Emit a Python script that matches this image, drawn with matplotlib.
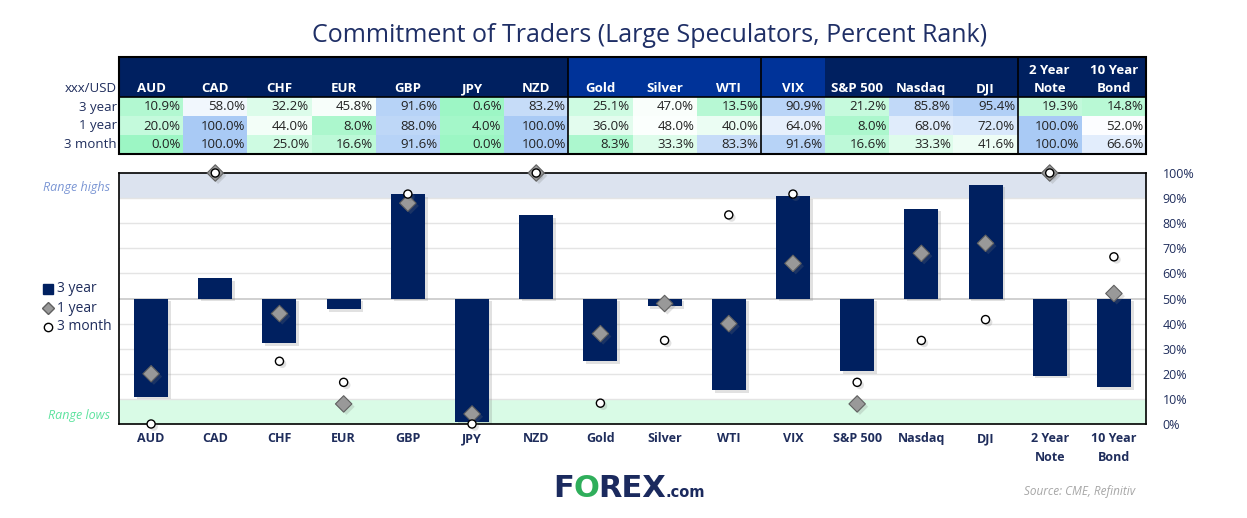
import matplotlib
matplotlib.use('Agg')
import matplotlib.pyplot as plt
import matplotlib.patheffects as pe
from matplotlib.patches import Rectangle
from matplotlib.lines import Line2D
import numpy as np

plt.rcParams['font.family'] = ['Open Sans', 'DejaVu Sans']

# DATA
markets = ['AUD', 'CAD', 'CHF', 'EUR', 'GBP', 'JPY', 'NZD', 'Gold', 'Silver', 'WTI',
           'VIX', 'S&P 500', 'Nasdaq', 'DJI', '2 Year\nNote', '10 Year\nBond']
rank_3y = [10.9, 58.0, 32.2, 45.8, 91.6, 0.6, 83.2, 25.1, 47.0, 13.5, 90.9, 21.2, 85.8, 95.4, 19.3, 14.8]
rank_1y = [20.0, 100.0, 44.0, 8.0, 88.0, 4.0, 100.0, 36.0, 48.0, 40.0, 64.0, 8.0, 68.0, 72.0, 100.0, 52.0]
rank_3m = [0.0, 100.0, 25.0, 16.6, 91.6, 0.0, 100.0, 8.3, 33.3, 83.3, 91.6, 16.6, 33.3, 41.6, 100.0, 66.6]
row_names = ['3 year', '1 year', '3 month']
y_ticks = list(range(0, 101, 10))

NAVY = '#002060'
BRIGHT = '#003399'
TXT = '#1f2d5c'
header_colours = [NAVY] * 7 + [BRIGHT] * 4 + [NAVY] * 5
separators = [6.5, 9.5, 13.5]

W, H = 1247, 518
def fx(px):
    return px / W
def fy(py):
    return 1 - py / H

green = np.array([0x9c, 0xf6, 0xc4]) / 255
blue = np.array([0xa9, 0xca, 0xf5]) / 255
white = np.array([1.0, 1.0, 1.0])

def cell_colour(v):
    if v <= 50:
        t = (50 - v) / 50
        return tuple(white + (green - white) * t)
    t = (v - 50) / 50
    return tuple(white + (blue - white) * t)

fig = plt.figure(figsize=(12.47, 5.18), dpi=100)

# TITLE
fig.text(0.521, fy(36), 'Commitment of Traders (Large Speculators, Percent Rank)',
         ha='center', va='center', fontsize=18, color='#1f2f66')

# TABLE
L, R = 119, 1146
tax = fig.add_axes([fx(L), fy(154), (R - L) / W, (154 - 57) / H])
tax.set_xlim(-0.5, 15.5)
tax.set_ylim(154, 57)
tax.axis('off')
for i, name in enumerate(markets):
    tax.add_patch(Rectangle((i - 0.5, 57), 1, 40, color=header_colours[i], lw=0))
    tax.text(i, 95, name, ha='center', va='bottom', color='white', fontweight='bold',
             fontsize=9.5, linespacing=1.55)
for r, values in enumerate([rank_3y, rank_1y, rank_3m]):
    y0 = 97 + 19 * r
    for i, v in enumerate(values):
        tax.add_patch(Rectangle((i - 0.5, y0), 1, 19, color=cell_colour(v), lw=0))
        tax.text(i + 0.46, y0 + 10, f'{v:.1f}%', ha='right', va='center', fontsize=9.5, color='#222222')
    fig.text(fx(117), fy(y0 + 10), row_names[r], ha='right', va='center', fontsize=9.5, color=TXT)
fig.text(fx(117), fy(88), 'xxx/USD', ha='right', va='center', fontsize=9.5, color=TXT)
tax.plot([-0.5, 15.5], [97, 97], color='black', lw=1.2)
for s in separators:
    tax.plot([s, s], [57, 154], color='black', lw=1.2)
tax.add_patch(Rectangle((-0.5, 57), 16, 97, fill=False, ec='black', lw=1.5, clip_on=False))

# MAIN CHART
ax = fig.add_axes([fx(L), fy(424), (R - L) / W, (424 - 173) / H])
x = np.arange(len(markets))
ax.axhspan(90, 100, color='#dce3ef', zorder=0, lw=0)
ax.axhspan(0, 10, color='#d9fbe6', zorder=0, lw=0)
for g in y_ticks[1:-1]:
    ax.axhline(g, color='#c8c8c8' if g == 50 else '#e4e4e4', lw=1.2 if g == 50 else 1, zorder=0.5)

shadow = [pe.SimplePatchShadow(offset=(2, -2), shadow_rgbFace='#777777', alpha=0.22), pe.Normal()]
ax.bar(x, np.array(rank_3y) - 50, bottom=50, width=0.53, color=NAVY, zorder=2, path_effects=shadow)
ax.scatter(x, rank_1y, marker='D', s=70, c='#999999', edgecolors='#606060', linewidths=0.8,
           zorder=3, clip_on=False, path_effects=shadow)
ax.scatter(x, rank_3m, marker='o', s=34, c='white', edgecolors='black', linewidths=1,
           zorder=4, clip_on=False, path_effects=shadow)

ax.set_xlim(-0.5, 15.5)
ax.set_ylim(0, 100)
ax.yaxis.tick_right()
ax.set_yticks(y_ticks)
ax.set_yticklabels([f'{v}%' for v in y_ticks])
ax.tick_params(axis='y', length=0, pad=12, labelsize=9, labelcolor=TXT)
ax.set_xticks(x)
ax.set_xticklabels(markets, fontweight='bold', fontsize=9, color=TXT, va='top', linespacing=1.6)
ax.tick_params(axis='x', length=0, pad=6)
for sp in ax.spines.values():
    sp.set_color('black')
    sp.set_linewidth(1.2)

# LEGEND
leg = [('s', NAVY, NAVY, 7, '3 year'), ('D', '#999999', '#606060', 6, '1 year'), ('o', 'white', 'black', 6, '3 month')]
for k, (m, fc, ec, ms, lab) in enumerate(leg):
    yy = 289 + 19 * k
    fig.add_artist(Line2D([fx(48)], [fy(yy)], marker=m, ms=ms, mfc=fc, mec=ec, mew=1,
                          ls='none', transform=fig.transFigure))
    fig.text(fx(57), fy(yy), lab, ha='left', va='center', fontsize=10, color=TXT)

fig.text(fx(110), fy(188), 'Range highs', ha='right', va='center', fontsize=9, style='italic', color='#7b96d4')
fig.text(fx(110), fy(416), 'Range lows', ha='right', va='center', fontsize=9, style='italic', color='#5ee39f')

# LOGO
fig.canvas.draw()
renderer = fig.canvas.get_renderer()
xpos = fx(553)
for piece, col, size in [('F', '#1b2a5e', 22), ('O', '#2fae5b', 22), ('REX', '#1b2a5e', 22), ('.com', '#1b2a5e', 10.5)]:
    t = fig.text(xpos, fy(497), piece, ha='left', va='baseline', fontsize=size, fontweight='heavy',
                 color=col, family='DejaVu Sans')
    bb = t.get_window_extent(renderer)
    xpos = bb.x1 / W - 0.0005

fig.text(fx(1135), fy(491), 'Source: CME, Refinitiv', ha='right', va='center', fontsize=8.5,
         style='italic', color='#a6a6a6')

fig.savefig('out.png', dpi=100)
